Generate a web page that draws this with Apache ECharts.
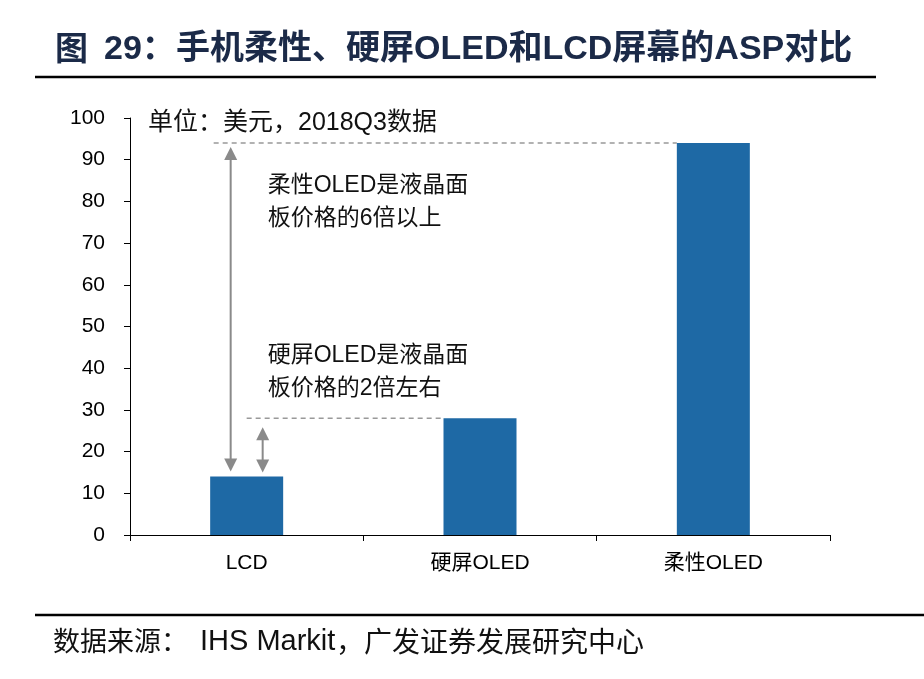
<!DOCTYPE html>
<html>
<head>
<meta charset="utf-8">
<script src="https://cdn.jsdelivr.net/npm/echarts@6/dist/echarts.min.js"></script>
<style>html,body{margin:0;padding:0;background:#fff;}#c{width:924px;height:679px;}</style>
</head>
<body>
<div id="c"></div>
<script>
const categories = ['LCD', '硬屏OLED', '柔性OLED'];
const aspValues = [14, 28, 94];
const yMin = 0, yMax = 100, yStep = 10;
const unitNote = '单位：美元，2018Q3数据';
const note6x = ['柔性OLED是液晶面', '板价格的6倍以上'];
const note2x = ['硬屏OLED是液晶面', '板价格的2倍左右'];
const titleParts = ['图', '29：', '手机柔性、硬屏OLED和LCD屏幕的ASP对比'];
const sourceParts = ['数据来源：', 'IHS Markit', '，广发证券发展研究中心'];

const FONT = '"Liberation Sans", Arial, "Noto Sans CJK SC", sans-serif';
const NAVY = '#1b2a48';
const GRAY = '#8a8a8a';

const chart = echarts.init(document.getElementById('c'), null, {renderer: 'canvas'});
const BAR_W = 73;

chart.setOption({
  animation: false,
  backgroundColor: '#fff',
  grid: {left: 130, right: 94, top: 118, bottom: 144, containLabel: false},
  xAxis: {
    type: 'category',
    data: categories,
    axisLine: {lineStyle: {color: '#000', width: 1}},
    axisTick: {show: true, length: 6, lineStyle: {color: '#000'}},
    axisLabel: {color: '#000', fontSize: 21, fontFamily: FONT, margin: 18}
  },
  yAxis: {
    type: 'value',
    min: yMin, max: yMax, interval: yStep,
    axisLine: {show: true, lineStyle: {color: '#000', width: 1}},
    axisTick: {show: true, length: 6, lineStyle: {color: '#000'}},
    axisLabel: {color: '#000', fontSize: 21, fontFamily: FONT, margin: 25},
    splitLine: {show: false}
  },
  series: [{
    type: 'bar',
    data: aspValues,
    barWidth: BAR_W,
    itemStyle: {color: '#1e69a5'},
    z: 3
  }]
});

function px(catIdx, val) {
  return chart.convertToPixel({gridIndex: 0}, [catIdx, val]);
}

const lcd = px(0, aspValues[0]);
const rigid = px(1, aspValues[1]);
const flex = px(2, aspValues[2]);

function arrowHead(x, y, dir) {
  const h = 13, w = 6.5;
  return {
    type: 'polygon', z: 10,
    shape: {points: [[x, y], [x - w, y - dir * h], [x + w, y - dir * h]]},
    style: {fill: GRAY}
  };
}

const g = [];
// title
g.push({type: 'text', left: 55, top: 31, z: 20,
  style: {text: titleParts[0], font: 'bold 33px "Noto Sans CJK SC", sans-serif', fill: NAVY}});
g.push({type: 'text', left: 104, top: 33, z: 20,
  style: {text: titleParts[1], font: 'bold 34px "Liberation Sans", Arial, "Noto Sans CJK SC", sans-serif', fill: NAVY}});
g.push({type: 'text', left: 176, top: 33, z: 20,
  style: {text: titleParts[2], font: 'bold 34px "Liberation Sans", Arial, "Noto Sans CJK SC", sans-serif', fill: NAVY}});
// title rule
g.push({type: 'line', z: 20, shape: {x1: 35, y1: 77, x2: 876, y2: 77}, style: {stroke: '#000', lineWidth: 2.5}});
// source rule
g.push({type: 'line', z: 20, shape: {x1: 35, y1: 615, x2: 924, y2: 615}, style: {stroke: '#000', lineWidth: 2.5}});
// source
g.push({type: 'text', left: 53, top: 627, z: 20,
  style: {text: sourceParts[0], font: '27px "Noto Sans CJK SC", sans-serif', fill: '#111'}});
g.push({type: 'text', left: 200, top: 627, z: 20,
  style: {text: sourceParts[1], font: '29px "Liberation Sans", Arial, sans-serif', fill: '#111'}});
g.push({type: 'text', left: 336, top: 627, z: 20,
  style: {text: sourceParts[2], font: '28px "Noto Sans CJK SC", sans-serif', fill: '#111'}});

// unit note
g.push({type: 'text', left: 148, top: 111, z: 20,
  style: {text: unitNote, font: '25px ' + FONT, fill: '#111'}});

// dashed reference lines
const barHalf = BAR_W / 2;
g.push({type: 'line', z: 1, shape: {x1: lcd[0] - 33, y1: flex[1], x2: flex[0] - barHalf, y2: flex[1]},
  style: {stroke: '#999', lineWidth: 1.5, lineDash: [5, 4]}});
g.push({type: 'line', z: 1, shape: {x1: lcd[0], y1: rigid[1], x2: rigid[0] - barHalf, y2: rigid[1]},
  style: {stroke: '#999', lineWidth: 1.5, lineDash: [5, 4]}});

// arrow 1 (LCD -> flexible)
const ax1 = lcd[0] - 16;
const a1top = flex[1] + 4, a1bot = lcd[1] - 5;
g.push({type: 'line', z: 10, shape: {x1: ax1, y1: a1top + 10, x2: ax1, y2: a1bot - 10}, style: {stroke: GRAY, lineWidth: 2}});
g.push(arrowHead(ax1, a1top, -1));
g.push(arrowHead(ax1, a1bot, 1));
// arrow 2 (LCD -> rigid)
const ax2 = lcd[0] + 16;
const a2top = rigid[1] + 9, a2bot = lcd[1] - 4;
g.push({type: 'line', z: 10, shape: {x1: ax2, y1: a2top + 10, x2: ax2, y2: a2bot - 10}, style: {stroke: GRAY, lineWidth: 2}});
g.push(arrowHead(ax2, a2top, -1));
g.push(arrowHead(ax2, a2bot, 1));

// annotation texts
function noteLines(lines, x, yc) {
  lines.forEach((t, i) => {
    g.push({type: 'text', left: x, top: yc + i * 33 - 11, z: 20,
      style: {text: t, font: '23px ' + FONT, fill: '#111'}});
  });
}
noteLines(note6x, lcd[0] + 21, 185);
noteLines(note2x, lcd[0] + 21, 355);

chart.setOption({graphic: {elements: g}});
</script>
</body>
</html>
